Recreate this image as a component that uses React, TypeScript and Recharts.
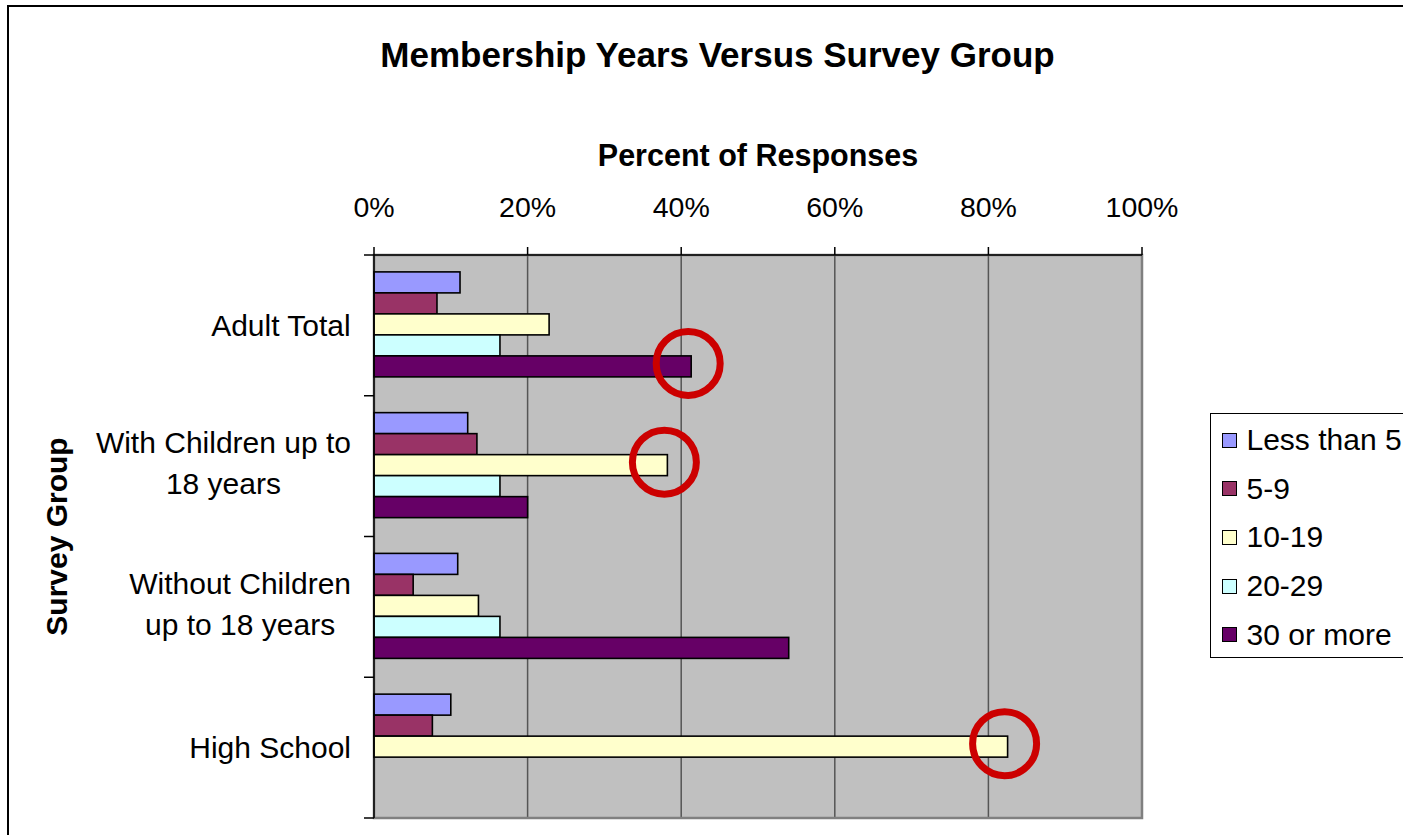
import React from "react";
import { BarChart, Bar, XAxis, YAxis, CartesianGrid, Legend, ReferenceArea, Label } from "recharts";

// ---- data ----
const categories = [
  "Adult Total",
  "With Children up to 18 years",
  "Without Children up to 18 years",
  "High School",
];
const categoryLines = [
  ["Adult Total"],
  ["With Children up to", "18 years"],
  ["Without Children", "up to 18 years"],
  ["High School"],
];
const seriesNames = ["Less than 5", "5-9", "10-19", "20-29", "30 or more"];
const seriesColors = ["#9999FF", "#993366", "#FFFFCC", "#CCFFFF", "#660066"];
const lessThan5 = [11.2, 12.2, 10.9, 10.0];
const from5to9 = [8.2, 13.4, 5.1, 7.6];
const from10to19 = [22.8, 38.2, 13.6, 82.5];
const from20to29 = [16.4, 16.4, 16.4, 0];
const thirtyOrMore = [41.3, 20.0, 54.0, 0];
const xTicks = [0, 20, 40, 60, 80, 100];
const highlighted: [string, string][] = [
  ["Adult Total", "30 or more"],
  ["With Children up to 18 years", "10-19"],
  ["High School", "10-19"],
];

const seriesValues = [lessThan5, from5to9, from10to19, from20to29, thirtyOrMore];
const data = categories.map((name, i) => {
  const row: any = { name };
  seriesValues.forEach((vals, j) => {
    row["s" + j] = vals[i];
  });
  return row;
});

const FONT = "'Liberation Sans', Arial, Helvetica, sans-serif";

let measureCtx: CanvasRenderingContext2D | null = null;
function measure(text: string, font: string): number {
  if (!measureCtx) measureCtx = document.createElement("canvas").getContext("2d");
  if (!measureCtx) return text.length * 15;
  measureCtx.font = font;
  return measureCtx.measureText(text).width;
}

const CAT_FS = 30;

const CategoryTick = (props: any) => {
  const { x, y, payload, index } = props;
  const ci = categories.indexOf(payload.value);
  const lines = categoryLines[ci] || [String(payload.value)];
  const half = payload.offset && payload.offset > 0 ? payload.offset : 70.4;
  const blockW = Math.max(...lines.map((l) => measure(l, `${CAT_FS}px ${FONT}`)));
  const cx = x - blockW / 2;
  const lh = 41;
  const n = lines.length;
  const shift = n > 1 ? -3 : 0;
  return (
    <g>
      <line x1={x + 13} x2={x + 23} y1={y - half} y2={y - half} stroke="#000" strokeWidth={1.5} />
      {index === categories.length - 1 && (
        <line x1={x + 13} x2={x + 23} y1={y + half} y2={y + half} stroke="#000" strokeWidth={1.5} />
      )}
      {lines.map((l, k) => (
        <text
          key={k}
          x={cx}
          y={y + shift + (k - (n - 1) / 2) * lh + CAT_FS * 0.35}
          textAnchor="middle"
          fontFamily={FONT}
          fontSize={CAT_FS}
          fill="#000"
        >
          {l}
        </text>
      ))}
    </g>
  );
};

const PercentTick = (props: any) => {
  const { x, y, payload } = props;
  return (
    <text x={x} y={y} textAnchor="middle" fontFamily={FONT} fontSize={28.5} fill="#000">
      {payload.value}%
    </text>
  );
};

const makeShape = (seriesIdx: number) => (props: any) => {
  const { x, y, width, height, fill, index } = props;
  if (!width || width <= 0) return <g />;
  const cat = props.payload?.name ?? categories[index];
  const isHl = highlighted.some(([c, s]) => c === cat && s === seriesNames[seriesIdx]);
  return (
    <g>
      <rect x={x} y={y} width={width} height={height} fill={fill} stroke="#000" strokeWidth={1.6} />
      {isHl && (
        <circle cx={x + width - 3} cy={y + height / 2 - 3} r={32} fill="none" stroke="#CC0000" strokeWidth={7} />
      )}
    </g>
  );
};

const LegendBox = () => (
  <div
    style={{
      border: "1.5px solid #000",
      background: "#fff",
      width: 280,
      height: 245,
      boxSizing: "border-box",
      paddingTop: 2,
      fontFamily: FONT,
      fontSize: 30,
      color: "#000",
    }}
  >
    {seriesNames.map((n, i) => (
      <div key={n} style={{ height: 48.6, display: "flex", alignItems: "center", whiteSpace: "nowrap" }}>
        <span
          style={{
            display: "inline-block",
            flex: "none",
            width: 15,
            height: 15,
            boxSizing: "border-box",
            background: seriesColors[i],
            border: "1.5px solid #000",
            marginLeft: 10.5,
            marginRight: 10,
          }}
        />
        <span>{n}</span>
      </div>
    ))}
  </div>
);

export default function App() {
  return (
    <div
      style={{
        position: "fixed",
        left: 0,
        top: 0,
        width: 1403,
        height: 835,
        overflow: "hidden",
        background: "#fff",
      }}
    >
      <div
        style={{
          position: "absolute",
          left: 7,
          top: 5,
          width: 1600,
          height: 1000,
          border: "2px solid #000",
          boxSizing: "border-box",
        }}
      />
      <div style={{ position: "absolute", left: 0, top: 0, width: 1500, height: 835 }}>
        <BarChart
          width={1500}
          height={835}
          data={data}
          layout="vertical"
          margin={{ top: 0, right: 358, bottom: 17, left: 0 }}
          barCategoryGap="12%"
          barGap={0}
        >
          <CartesianGrid horizontal={false} stroke="#555" strokeWidth={1.5} fill="#C0C0C0" fillOpacity={1} />
          <ReferenceArea x1={0} x2={100} fill="none" stroke="#808080" strokeWidth={2.5} ifOverflow="visible" />
          {seriesNames.map((n, i) => (
            <Bar
              key={n}
              dataKey={"s" + i}
              name={n}
              fill={seriesColors[i]}
              stroke="#000"
              isAnimationActive={false}
              shape={makeShape(i)}
            />
          ))}
          <XAxis
            type="number"
            orientation="top"
            domain={[0, 100]}
            ticks={xTicks}
            height={255}
            axisLine={{ stroke: "#000", strokeWidth: 1.5 }}
            tickLine={{ stroke: "#000", strokeWidth: 1.5 }}
            tickSize={8}
            tickMargin={30}
            tick={<PercentTick />}
            interval={0}
            label={
              <Label
                content={(p: any) => {
                  const vb = p.viewBox || { x: 374, y: 0, width: 768, height: 255 };
                  return (
                    <text
                      x={vb.x + vb.width / 2}
                      y={vb.y + vb.height - 89}
                      textAnchor="middle"
                      fontFamily={FONT}
                      fontWeight="bold"
                      fontSize={30.5}
                      fill="#000"
                    >
                      Percent of Responses
                    </text>
                  );
                }}
              />
            }
          />
          <YAxis
            type="category"
            dataKey="name"
            width={374}
            axisLine={{ stroke: "#000", strokeWidth: 1.5 }}
            tickLine={false}
            tickSize={0}
            tickMargin={23}
            tick={<CategoryTick />}
            interval={0}
            label={
              <Label
                content={(p: any) => {
                  const vb = p.viewBox || { x: 0, y: 255, width: 374, height: 563 };
                  const cy = vb.y + vb.height / 2;
                  return (
                    <text
                      x={67}
                      y={cy}
                      transform={`rotate(-90 67 ${cy})`}
                      textAnchor="middle"
                      fontFamily={FONT}
                      fontWeight="bold"
                      fontSize={30}
                      fill="#000"
                    >
                      Survey Group
                    </text>
                  );
                }}
              />
            }
          />
          <Legend
            content={<LegendBox />}
            layout="horizontal"
            verticalAlign="middle"
            align="center"
            wrapperStyle={{ left: 1210, top: 413, width: 280, height: 245 }}
          />
        </BarChart>
      </div>
      <svg
        style={{ position: "absolute", left: 0, top: 0, pointerEvents: "none" }}
        width={1403}
        height={110}
      >
        <text x={717.5} y={67} textAnchor="middle" fontFamily={FONT} fontWeight="bold" fontSize={35} fill="#000">
          Membership Years Versus Survey Group
        </text>
      </svg>
    </div>
  );
}
